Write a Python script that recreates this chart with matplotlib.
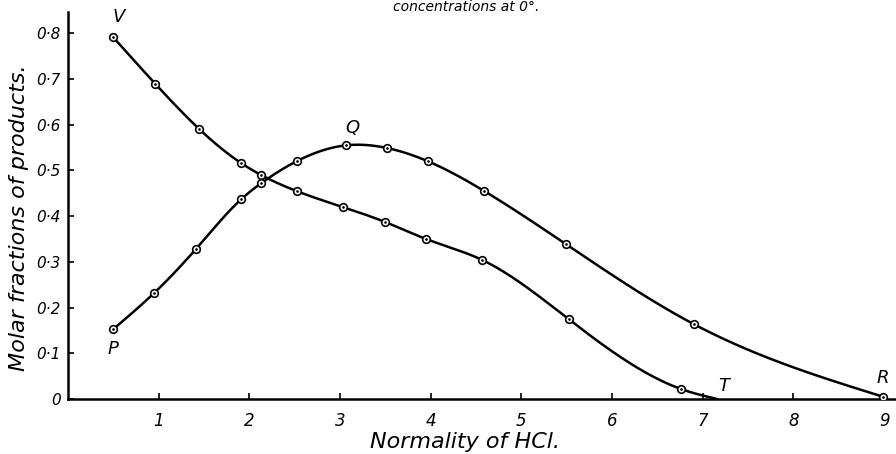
import numpy as np
import matplotlib.pyplot as plt

# courbe V -> T (decroissante)
xv = [0.5, 0.96, 1.45, 1.91, 2.13, 2.52, 3.03, 3.50, 3.95, 4.57, 5.52, 6.76]
yv = [0.791, 0.690, 0.590, 0.516, 0.490, 0.455, 0.420, 0.387, 0.350, 0.304, 0.175, 0.022]
x_T, y_T = 7.16, 0.0
# courbe P -> Q -> R
xq = [0.5, 0.95, 1.41, 1.91, 2.13, 2.52, 3.07, 3.52, 3.97, 4.59, 5.49, 6.90, 8.99]
yq = [0.153, 0.232, 0.328, 0.437, 0.472, 0.520, 0.555, 0.549, 0.520, 0.455, 0.339, 0.164, 0.005]

yticks = [0, 0.1, 0.2, 0.3, 0.4, 0.5, 0.6, 0.7, 0.8]
ylabels = ['0', '0·1', '0·2', '0·3', '0·4', '0·5', '0·6', '0·7', '0·8']
xticks = [1, 2, 3, 4, 5, 6, 7, 8, 9]


def spline(x, y, n=400):
    # spline cubique naturelle, juste pour tracer une courbe lisse
    x = np.asarray(x, float)
    y = np.asarray(y, float)
    k = len(x)
    h = np.diff(x)
    A = np.zeros((k, k))
    b = np.zeros(k)
    A[0, 0] = A[-1, -1] = 1.
    for i in range(1, k - 1):
        A[i, i - 1] = h[i - 1]
        A[i, i] = 2 * (h[i - 1] + h[i])
        A[i, i + 1] = h[i]
        b[i] = 6 * ((y[i + 1] - y[i]) / h[i] - (y[i] - y[i - 1]) / h[i - 1])
    m = np.linalg.solve(A, b)
    xs = np.linspace(x[0], x[-1], n)
    j = np.clip(np.searchsorted(x, xs) - 1, 0, k - 2)
    t = xs - x[j]
    hj = h[j]
    c = (y[j + 1] - y[j]) / hj - hj * (2 * m[j] + m[j + 1]) / 6
    ys = y[j] + c * t + m[j] / 2 * t**2 + (m[j + 1] - m[j]) / (6 * hj) * t**3
    return xs, ys


plt.rcParams['font.family'] = 'DejaVu Sans'
plt.rcParams['font.style'] = 'italic'

fig = plt.figure(figsize=(8.96, 4.54), dpi=100)
ax = fig.add_axes([0.0759, 0.121, 0.924, 0.852])

xs, ys = spline(xv + [x_T], yv + [y_T])
ax.plot(xs, ys, color='black', lw=1.8, solid_capstyle='round')
xs, ys = spline(xq, yq)
ax.plot(xs, ys, color='black', lw=1.8, solid_capstyle='round')

for xx, yy in [(xv, yv), (xq, yq)]:
    ax.plot(xx, yy, 'o', ms=5.5, mfc='white', mec='black', mew=1.2, zorder=3)
    ax.plot(xx, yy, '.', ms=1.8, color='black', zorder=4)

fs = 13
ax.annotate('V', (xv[0], yv[0]), xytext=(4, 8), textcoords='offset points', fontsize=fs, ha='center', va='bottom')
ax.annotate('P', (xq[0], yq[0]), xytext=(0, -8), textcoords='offset points', fontsize=fs, ha='center', va='top')
ax.annotate('Q', (xq[6], yq[6]), xytext=(4, 6), textcoords='offset points', fontsize=fs, ha='center', va='bottom')
ax.annotate('T', (x_T, y_T), xytext=(5, 3), textcoords='offset points', fontsize=fs, ha='center', va='bottom')
ax.annotate('R', (xq[-1], yq[-1]), xytext=(0, 7), textcoords='offset points', fontsize=fs, ha='center', va='bottom')

ax.set_xlim(0, 9.13)
ax.set_ylim(0, 0.846)
ax.set_xticks(xticks)
ax.set_xticklabels([str(t) for t in xticks])
ax.set_yticks(yticks)
ax.set_yticklabels(ylabels)
ax.tick_params(direction='in', length=4, width=1.2, labelsize=12, pad=6)
ax.tick_params(axis='y', labelsize=11, pad=5)
ax.tick_params(axis='x', pad=9)
for s in ['top', 'right']:
    ax.spines[s].set_visible(False)
for s in ['left', 'bottom']:
    ax.spines[s].set_linewidth(1.8)

ax.set_xlabel('Normality of HCl.', fontsize=16)
ax.xaxis.set_label_coords(0.48, -0.085)
ax.set_ylabel('Molar fractions of products.', fontsize=16)
ax.yaxis.set_label_coords(-0.047, 0.47)

fig.text(0.52, 0.999, 'concentrations at 0°.', ha='center', va='top', fontsize=10)

fig.savefig('out.png', dpi=100)
